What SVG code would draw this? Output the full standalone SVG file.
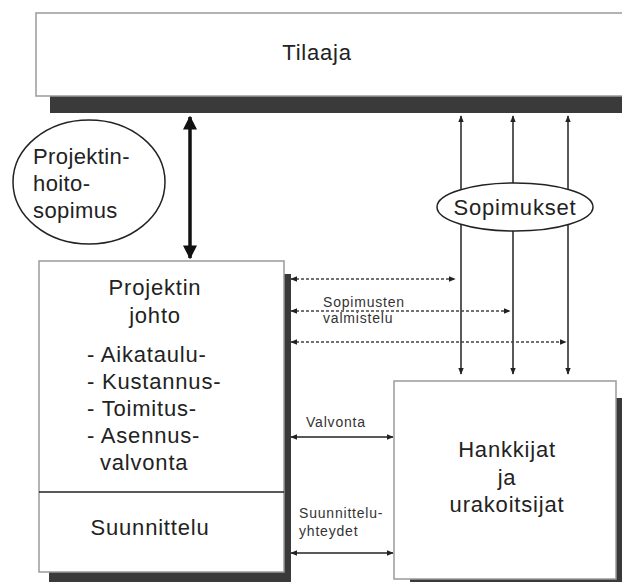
<svg xmlns="http://www.w3.org/2000/svg" width="622" height="582" viewBox="0 0 622 582">
<defs>
<style>
.box{fill:#fff;stroke:#9a9a9a;stroke-width:1.5}
.shadow{fill:#3a3a3a}
.t{font-family:"Liberation Sans",Arial,sans-serif;fill:#222}
.big{font-size:22px;letter-spacing:0.8px}
.sm{font-size:14px;letter-spacing:0.8px;fill:#333}
.ln{stroke:#222;stroke-width:1.5;fill:none}
.dot{stroke:#444;stroke-width:1.3;stroke-dasharray:3 2;fill:none}
.ell{fill:#fff;stroke:#222;stroke-width:1.5}
</style>
<marker id="ah" viewBox="0 0 10 10" refX="9" refY="5" markerWidth="7" markerHeight="7" orient="auto-start-reverse" markerUnits="userSpaceOnUse">
<path d="M0,1 L10,5 L0,9 Z" fill="#222"/>
</marker>
<marker id="ahb" viewBox="0 0 10 10" refX="9" refY="5" markerWidth="14" markerHeight="14" orient="auto-start-reverse" markerUnits="userSpaceOnUse">
<path d="M0,0 L10,5 L0,10 Z" fill="#111"/>
</marker>
</defs>
<rect width="622" height="582" fill="#fff"/>

<g id="tilaaja">
<rect class="shadow" x="50" y="96" width="580" height="17"/>
<rect class="box" x="36" y="13" width="600" height="83"/>
<text class="t big" x="317" y="60" text-anchor="middle">Tilaaja</text>
</g>

<g id="connectors">
<line x1="190" y1="117" x2="190" y2="258" stroke="#111" stroke-width="3.5" marker-start="url(#ahb)" marker-end="url(#ahb)"/>
<line class="ln" x1="461" y1="116" x2="461" y2="374" marker-start="url(#ah)" marker-end="url(#ah)"/>
<line class="ln" x1="513" y1="116" x2="513" y2="374" marker-start="url(#ah)" marker-end="url(#ah)"/>
<line class="ln" x1="568" y1="116" x2="568" y2="374" marker-start="url(#ah)" marker-end="url(#ah)"/>
<line class="dot" x1="291" y1="279" x2="455" y2="279" marker-start="url(#ah)" marker-end="url(#ah)"/>
<line class="dot" x1="291" y1="311" x2="510" y2="311" marker-start="url(#ah)" marker-end="url(#ah)"/>
<line class="dot" x1="291" y1="342" x2="566" y2="342" marker-start="url(#ah)" marker-end="url(#ah)"/>
<line class="ln" x1="291" y1="437" x2="393" y2="437" marker-start="url(#ah)" marker-end="url(#ah)"/>
<line class="ln" x1="291" y1="553" x2="393" y2="553" marker-start="url(#ah)" marker-end="url(#ah)"/>
<text class="t sm" x="323" y="307">Sopimusten</text>
<text class="t sm" x="323" y="323">valmistelu</text>
<text class="t sm" x="306" y="427">Valvonta</text>
<text class="t sm" x="299" y="518">Suunnittelu-</text>
<text class="t sm" x="299" y="536">yhteydet</text>
</g>

<g id="projektinhoitosopimus">
<ellipse class="ell" cx="89" cy="182" rx="76" ry="62"/>
<text class="t big" x="33" y="164" style="letter-spacing:0.4px">Projektin-</text>
<text class="t big" x="33" y="191" style="letter-spacing:0.4px">hoito-</text>
<text class="t big" x="33" y="218" style="letter-spacing:0.4px">sopimus</text>
</g>

<g id="sopimukset">
<ellipse class="ell" cx="515" cy="207" rx="78" ry="24"/>
<text class="t big" x="515" y="215" text-anchor="middle">Sopimukset</text>
</g>

<g id="projektin-johto">
<rect class="shadow" x="284" y="274" width="7" height="310"/>
<rect class="shadow" x="49" y="571" width="240" height="12"/>
<rect class="box" x="39" y="261" width="245" height="311"/>
<line x1="39" y1="492" x2="284" y2="492" stroke="#222" stroke-width="1.5"/>
<text class="t big" x="155" y="295" text-anchor="middle">Projektin</text>
<text class="t big" x="155" y="323" text-anchor="middle">johto</text>
<text class="t big" x="87" y="362">- Aikataulu-</text>
<text class="t big" x="87" y="389">- Kustannus-</text>
<text class="t big" x="87" y="416">- Toimitus-</text>
<text class="t big" x="87" y="443">- Asennus-</text>
<text class="t big" x="100" y="470">valvonta</text>
<text class="t big" x="150" y="535" text-anchor="middle">Suunnittelu</text>
</g>

<g id="hankkijat">
<rect class="shadow" x="410" y="398" width="220" height="190"/>
<rect class="box" x="394" y="381" width="222" height="198"/>
<text class="t big" x="507" y="457" text-anchor="middle">Hankkijat</text>
<text class="t big" x="507" y="485" text-anchor="middle">ja</text>
<text class="t big" x="507" y="512" text-anchor="middle">urakoitsijat</text>
</g>
</svg>
